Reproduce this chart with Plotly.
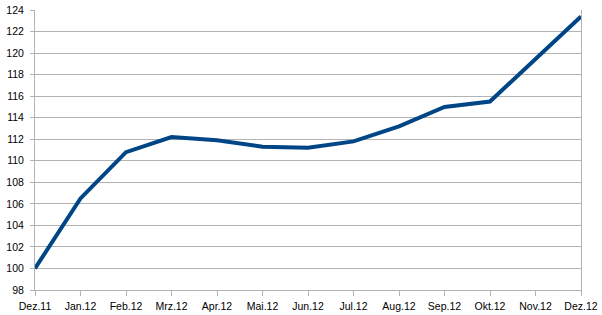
import plotly.graph_objects as go

months = ["Dez.11", "Jan.12", "Feb.12", "Mrz.12", "Apr.12", "Mai.12", "Jun.12",
          "Jul.12", "Aug.12", "Sep.12", "Okt.12", "Nov.12", "Dez.12"]
values = [100.0, 106.5, 110.8, 112.2, 111.9, 111.3, 111.2, 111.8, 113.2, 115.0, 115.5, 119.5, 123.4]
y_ticks = list(range(98, 125, 2))

grid = "#b3b3b3"
fig = go.Figure(go.Scatter(x=months, y=values, mode="lines",
                           line=dict(color="#004586", width=4)))
fig.update_layout(
    width=602, height=315, margin=dict(l=35, r=21, t=10, b=25),
    paper_bgcolor="white", plot_bgcolor="white", showlegend=False,
    font=dict(family="Liberation Sans, Arial, sans-serif", size=10.5, color="black"),
)
fig.update_xaxes(type="category", range=[0, 12], showgrid=False,
                 showline=True, linecolor=grid, linewidth=1, mirror=False,
                 ticks="outside", ticklen=5, tickcolor=grid, zeroline=False,
                 ticklabelstandoff=1, automargin=False)
fig.update_yaxes(range=[98, 124], tickvals=y_ticks, showgrid=True, gridcolor=grid,
                 gridwidth=1, showline=True, linecolor=grid, mirror=True,
                 ticks="outside", ticklen=4, tickcolor=grid, zeroline=False,
                 ticklabelstandoff=4, automargin=False)
fig.write_html("out.html")
